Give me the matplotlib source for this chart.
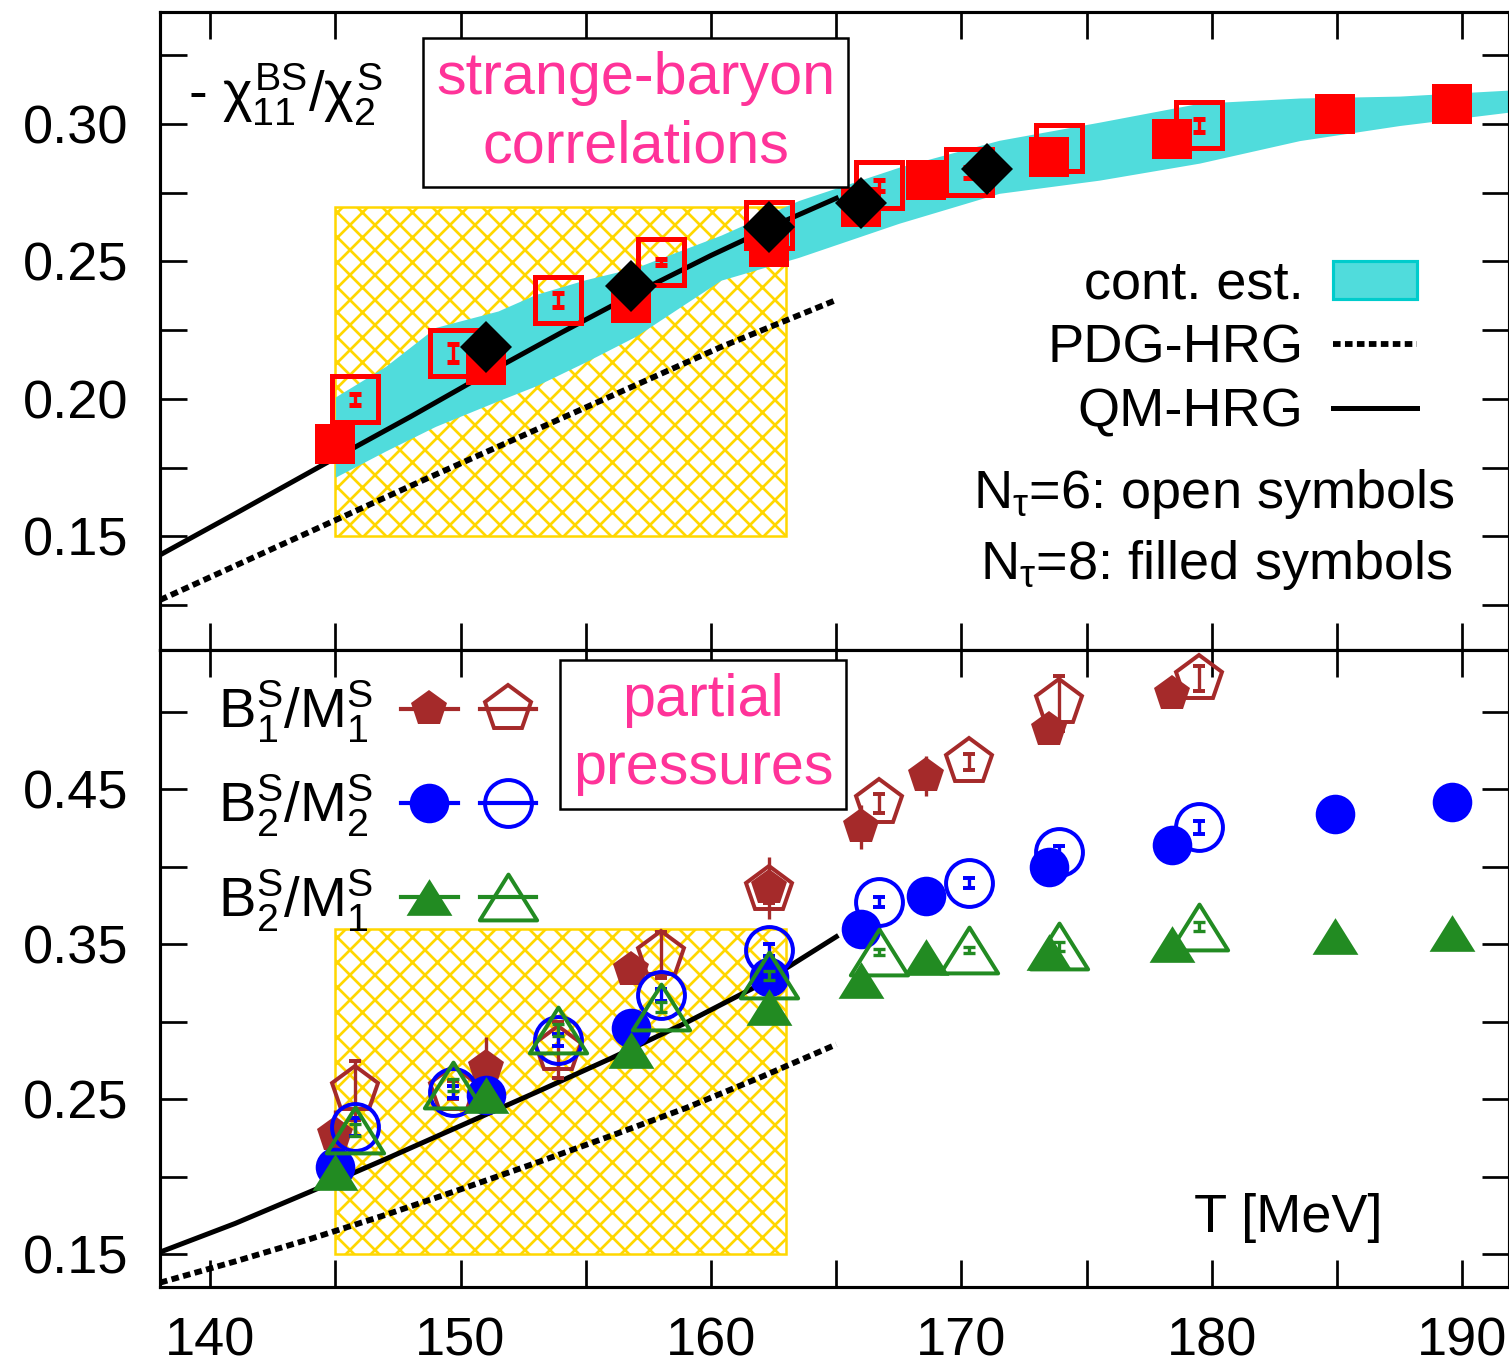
import numpy as np
import matplotlib
matplotlib.use("Agg")
import matplotlib.pyplot as plt
from matplotlib.patches import Rectangle, Patch
from matplotlib.lines import Line2D
from matplotlib.path import Path
from matplotlib.legend_handler import HandlerTuple

plt.rcParams['font.family'] = ['Liberation Sans', 'DejaVu Sans']
plt.rcParams['mathtext.fontset'] = 'custom'
plt.rcParams['mathtext.rm'] = 'Liberation Sans'
plt.rcParams['mathtext.it'] = 'Liberation Sans'
plt.rcParams['mathtext.sf'] = 'Liberation Sans'
plt.rcParams['mathtext.bf'] = 'Liberation Sans:bold'
plt.rcParams['hatch.linewidth'] = 1.3
FS = 26
FS_BOX = 28.5

# ---------------- top panel: -chi11^BS / chi2^S ----------------
T8 = [145.0, 151.0, 156.8, 162.3, 166.0, 168.6, 173.5, 178.4, 184.9, 189.6]
T6 = [145.8, 149.7, 153.9, 158.0, 162.3, 166.7, 170.3, 173.9, 179.5]

chi_n8 = [0.1836, 0.2123, 0.2349, 0.2552, 0.2698, 0.2796, 0.2880, 0.2945, 0.3036, 0.3073]
chi_n8_err = [0.001] * 10
chi_n6 = [0.1999, 0.2167, 0.2360, 0.2498, 0.2632, 0.2778, 0.2825, 0.2913, 0.2996]
chi_n6_err = [0.0020, 0.0033, 0.0024, 0.0010, 0.0020, 0.0020, 0.0020, 0.0020, 0.0024]

T_dia = [151.0, 156.8, 162.3, 166.0, 171.0]
chi_dia = [0.2189, 0.2410, 0.2625, 0.2713, 0.2836]

T_band = [145.0, 147.0, 149.0, 151.5, 153.0, 155.0, 157.0, 160.4, 163.5, 167.5,
          171.5, 175.5, 179.5, 183.5, 187.5, 191.9]
band_lo = [0.1715, 0.1810, 0.1900, 0.1993, 0.2047, 0.2135, 0.2228, 0.2432, 0.2515, 0.2639,
           0.2748, 0.2796, 0.2858, 0.2940, 0.2995, 0.3044]
band_hi = [0.2007, 0.2118, 0.2260, 0.2320, 0.2380, 0.2434, 0.2478, 0.2596, 0.2722, 0.2843,
           0.2941, 0.3007, 0.3076, 0.3095, 0.3102, 0.3124]

T_qm_top = [138.0, 141.0, 145.0, 148.0, 151.0, 154.0, 157.0, 160.0, 163.0, 165.0]
qm_top = [0.1432, 0.1582, 0.1785, 0.1935, 0.2090, 0.2240, 0.2385, 0.2522, 0.2650, 0.2730]
T_pdg_top = [138.0, 148.7, 160.4, 165.0]
pdg_top = [0.1268, 0.1712, 0.2189, 0.2360]

# ---------------- bottom panel: partial pressures ----------------
T8b = [145.0, 151.0, 156.8, 162.3, 166.0, 168.6, 173.5, 178.4, 184.9, 189.6]

b1m1_n8 = [0.2270, 0.2702, 0.3334, 0.3863, 0.4259, 0.4586, 0.4887, 0.5119]
b1m1_n8_err = [0.016, 0.020, 0.006, 0.020, 0.014, 0.013, 0.006, 0.004]
b1m1_n6 = [0.2560, 0.2560, 0.2818, 0.3431, 0.3850, 0.4410, 0.4678, 0.5055, 0.5216]
b1m1_n6_err = [0.019, 0.006, 0.018, 0.015, 0.008, 0.006, 0.005, 0.018, 0.008]

b2m2_n8 = [0.2065, 0.2528, 0.2958, 0.3291, 0.3597, 0.3812, 0.4001, 0.4141, 0.4345, 0.4420]
b2m2_n8_err = [0.004, 0.004, 0.004, 0.004, 0.003, 0.003, 0.003, 0.003, 0.003, 0.003]
b2m2_n6 = [0.2323, 0.2549, 0.2883, 0.3173, 0.3463, 0.3775, 0.3897, 0.4097, 0.4255]
b2m2_n6_err = [0.006, 0.004, 0.004, 0.004, 0.004, 0.003, 0.003, 0.004, 0.004]

b2m1_n8 = [0.2033, 0.2528, 0.2818, 0.3097, 0.3270, 0.3420, 0.3452, 0.3502, 0.3554, 0.3571]
b2m1_n8_err = [0.003] * 10
b2m1_n6 = [0.2302, 0.2592, 0.2947, 0.3097, 0.3302, 0.3452, 0.3463, 0.3489, 0.3614]
b2m1_n6_err = [0.004, 0.004, 0.004, 0.003, 0.003, 0.002, 0.002, 0.003, 0.003]

T_qm_bot = [138.0, 141.0, 144.0, 147.0, 150.0, 153.0, 156.0, 159.0, 162.0, 165.0]
qm_bot = [0.1515, 0.1700, 0.1905, 0.2115, 0.2330, 0.2545, 0.2765, 0.2995, 0.3245, 0.3550]
T_pdg_bot = [138.0, 141.0, 144.0, 147.0, 150.0, 153.0, 156.0, 159.0, 162.0, 165.0]
pdg_bot = [0.1318, 0.1455, 0.1600, 0.1755, 0.1920, 0.2090, 0.2265, 0.2445, 0.2645, 0.2855]

# transition region (hatched box)
Tc_lo, Tc_hi = 145.0, 163.0
box_top = (0.15, 0.27)
box_bot = (0.15, 0.36)

RED, BROWN, BLUE, GREEN = '#ff0000', '#a52a2a', '#0000ff', '#228b22'
PINK = '#ff3399'
CYAN, CYAN_EDGE, GOLD = '#50dcdc', '#00cccc', '#ffd700'
tri = Path([(0, 0.8), (-1, -0.8), (1, -0.8), (0, 0.8)], closed=True)
dotted = (0, (1.3, 0.75))

fig = plt.figure(figsize=(1509 / 150, 1364 / 150), dpi=150)
ax1 = fig.add_axes([160 / 1509, 1 - 650 / 1364, 1349 / 1509, 638 / 1364])
ax2 = fig.add_axes([160 / 1509, 1 - 1287 / 1364, 1349 / 1509, 637 / 1364])

# ---- top ----
ax1.add_patch(Rectangle((Tc_lo, box_top[0]), Tc_hi - Tc_lo, box_top[1] - box_top[0],
                        facecolor='white', edgecolor=GOLD, hatch='xx', lw=1.2, zorder=1))
ax1.fill_between(T_band, band_lo, band_hi, color=CYAN, lw=0, zorder=2)
ax1.plot(T_qm_top, qm_top, color='black', lw=2.4, zorder=3)
ax1.plot(T_pdg_top, pdg_top, color='black', lw=2.8, ls=dotted, zorder=3)
ax1.errorbar(T6, chi_n6, yerr=chi_n6_err, fmt='s', ms=22, mfc='none', mec=RED, mew=2.4,
             ecolor=RED, elinewidth=1.6, capsize=3, capthick=1.6, zorder=4)
ax1.errorbar(T8, chi_n8, yerr=chi_n8_err, fmt='s', ms=19, mfc=RED, mec=RED, mew=0,
             ecolor=RED, elinewidth=1.6, capsize=3, zorder=5)
ax1.plot(T_dia, chi_dia, 'D', ms=17.7, color='black', mew=0, zorder=6)

ax1.set_xlim(138.0, 191.86)
ax1.set_ylim(0.1086, 0.3408)
yt1 = [0.125, 0.15, 0.175, 0.20, 0.225, 0.25, 0.275, 0.30, 0.325]
ax1.set_yticks(yt1)
ax1.set_yticklabels(['' if round(v * 1000) % 50 else f'{v:.2f}' for v in yt1])
ax1.set_xticks(np.arange(140, 191, 5))
ax1.set_xticklabels([])

h_band = Patch(facecolor=CYAN, edgecolor=CYAN_EDGE, lw=1.5)
h_pdg = Line2D([], [], color='black', lw=2.8, ls=dotted)
h_qm = Line2D([], [], color='black', lw=2.4)
ax1.legend([h_band, h_pdg, h_qm], ['cont. est.', 'PDG-HRG', 'QM-HRG'],
           loc='upper right', bbox_to_anchor=(0.932, 0.612), borderaxespad=0, borderpad=0,
           frameon=False, markerfirst=False, fontsize=FS, handlelength=1.55,
           handleheight=0.7, handletextpad=0.55, labelspacing=0.26)
ax1.text(0.960, 0.244, r'N$_\tau$=6: open symbols', transform=ax1.transAxes,
         ha='right', va='center', fontsize=FS)
ax1.text(0.958, 0.134, r'N$_\tau$=8: filled symbols', transform=ax1.transAxes,
         ha='right', va='center', fontsize=FS)
ax1.text(0.021, 0.87, r'- $\chi^{BS}_{11}/\chi^{S}_{2}$', transform=ax1.transAxes,
         ha='left', va='center', fontsize=FS + 1)
ax1.text(0.3525, 0.842, 'strange-baryon\ncorrelations', transform=ax1.transAxes,
         ha='center', va='center', fontsize=FS_BOX, color=PINK, linespacing=1.3,
         bbox=dict(boxstyle='square,pad=0.22', fc='white', ec='black', lw=1.2), zorder=7)

# ---- bottom ----
ax2.add_patch(Rectangle((Tc_lo, box_bot[0]), Tc_hi - Tc_lo, box_bot[1] - box_bot[0],
                        facecolor='white', edgecolor=GOLD, hatch='xx', lw=1.2, zorder=1))
ax2.plot(T_qm_bot, qm_bot, color='black', lw=2.4, zorder=3)
ax2.plot(T_pdg_bot, pdg_bot, color='black', lw=2.8, ls=dotted, zorder=3)

ek = dict(elinewidth=1.6, capsize=3, capthick=1.6)
ax2.errorbar(T8b[:8], b1m1_n8, yerr=b1m1_n8_err, fmt='p', ms=18.2, color=BROWN, mew=0,
             zorder=4, **ek)
ax2.errorbar(T6, b1m1_n6, yerr=b1m1_n6_err, fmt='p', ms=23, mfc='none', mec=BROWN,
             mew=1.9, ecolor=BROWN, zorder=5, **ek)
ax2.errorbar(T8b, b2m2_n8, yerr=b2m2_n8_err, fmt='o', ms=19, color=BLUE, mew=0,
             zorder=6, **ek)
ax2.errorbar(T6, b2m2_n6, yerr=b2m2_n6_err, fmt='o', ms=22.5, mfc='none', mec=BLUE,
             mew=1.9, ecolor=BLUE, zorder=7, **ek)
ax2.errorbar(T8b, b2m1_n8, yerr=b2m1_n8_err, fmt='none', ecolor=GREEN, zorder=8, **ek)
ax2.plot(T8b, b2m1_n8, ls='none', marker=tri, ms=22, color=GREEN, mew=0, zorder=8)
ax2.errorbar(T6, b2m1_n6, yerr=b2m1_n6_err, fmt='none', ecolor=GREEN, zorder=9, **ek)
ax2.plot(T6, b2m1_n6, ls='none', marker=tri, ms=27.5, mfc='none', mec=GREEN, mew=1.9,
         zorder=9)

ax2.set_xlim(138.0, 191.86)
ax2.set_ylim(0.129, 0.540)
yt2 = [0.15, 0.20, 0.25, 0.30, 0.35, 0.40, 0.45, 0.50]
ax2.set_yticks(yt2)
ax2.set_yticklabels([f'{v:.2f}' if i % 2 == 0 else '' for i, v in enumerate(yt2)])
xt = np.arange(140, 191, 5)
ax2.set_xticks(xt)
ax2.set_xticklabels([str(v) if v % 10 == 0 else '' for v in xt])

def pair(c, m, ms_f, ms_o):
    f = Line2D([], [], color=c, lw=2, marker=m, ms=ms_f, mew=0)
    o = Line2D([], [], color=c, lw=2, marker=m, ms=ms_o, mfc='none', mec=c, mew=1.9)
    return (f, o)

ax2.legend([pair(BROWN, 'p', 18.2, 23), pair(BLUE, 'o', 19, 22.5), pair(GREEN, tri, 22, 27.5)],
           [r'B$^S_1$/M$^S_1$', r'B$^S_2$/M$^S_2$', r'B$^S_2$/M$^S_1$'],
           handler_map={tuple: HandlerTuple(ndivide=None, pad=0.4)},
           loc='upper left', bbox_to_anchor=(0.043, 0.955), borderaxespad=0, borderpad=0,
           frameon=False, markerfirst=False, fontsize=FS + 1, handlelength=2.4,
           handletextpad=0.5, labelspacing=0.5)
ax2.text(0.4025, 0.868, 'partial\npressures', transform=ax2.transAxes,
         ha='center', va='center', fontsize=FS_BOX, color=PINK, linespacing=1.3,
         bbox=dict(boxstyle='square,pad=0.22', fc='white', ec='black', lw=1.2), zorder=10)
ax2.text(0.836, 0.108, 'T [MeV]', transform=ax2.transAxes, ha='center', va='center',
         fontsize=FS)

for ax in (ax1, ax2):
    for s in ax.spines.values():
        s.set_linewidth(1.5)
    ax.tick_params(which='both', direction='in', length=13, width=1.3,
                   top=True, right=True, labelsize=FS)
    ax.tick_params(axis='y', pad=15)
    ax.tick_params(axis='x', pad=14)

fig.savefig('out.png', dpi=150)
